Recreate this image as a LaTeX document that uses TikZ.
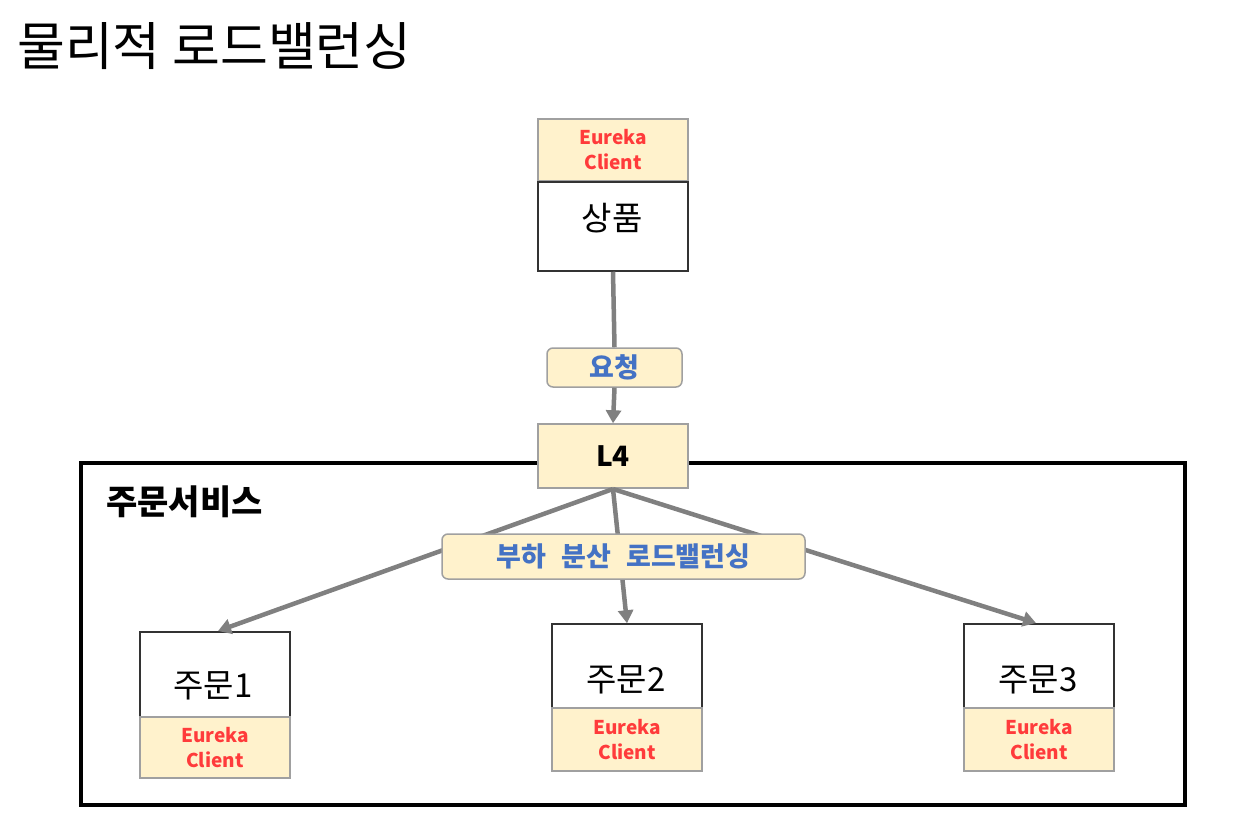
\documentclass[tikz,border=0pt]{standalone}
\usepackage{fontspec}
\setmainfont{Noto Sans CJK KR}
\usetikzlibrary{arrows.meta}
\definecolor{boxyellow}{HTML}{FFF2CC}
\definecolor{lblue}{HTML}{4472C4}
\definecolor{ered}{HTML}{FF3B3B}
\definecolor{lgray}{HTML}{808080}
\definecolor{bgray}{HTML}{A0A0A0}
\begin{document}
\begin{tikzpicture}[x=1pt,y=-1pt,
  eureka/.style={draw=bgray,line width=1.5pt,fill=boxyellow,minimum width=150pt,minimum height=62pt,inner sep=0pt,align=center,font=\fontsize{19}{25}\selectfont\bfseries,text=ered},
  svc/.style={draw=black!80,line width=1.5pt,fill=white,minimum width=150pt,minimum height=86pt,inner sep=0pt},
  svctext/.style={inner sep=0pt,font=\fontsize{33}{38}\selectfont},
  lbl/.style={draw=bgray,line width=1.5pt,fill=boxyellow,rounded corners=6pt,inner sep=0pt,font=\fontsize{27}{32}\selectfont\bfseries,text=lblue},
  conn/.style={draw=lgray,line width=4.5pt},
  arr/.style={conn,-{Triangle[width=15pt,length=13pt]}}]
\useasboundingbox (0,0) rectangle (1250,822);
% title
\node[anchor=west,inner sep=0pt,font=\fontsize{52}{60}\selectfont] (title) at (17,46) {물리적 로드밸런싱};
% outer container
\draw[line width=4pt] (81,463) rectangle (1185,805);
\node[anchor=west,inner sep=0pt,font=\fontsize{34}{40}\selectfont\bfseries] (svcname) at (106,502) {주문서비스};
% top service
\node[eureka] (e0) at (613,150) {Eureka\\Client};
\node[svc,minimum height=89pt] (p) at (613,226.5) {};
\node[svctext] (pt) at (612,218) {상품};
% request label and L4
\node[lbl,minimum width=135pt,minimum height=39pt] (req) at (614.5,367.5) {요청};
\node[draw=bgray,line width=1.5pt,fill=boxyellow,minimum width=150pt,minimum height=64pt,inner sep=0pt,font=\fontsize{28}{32}\selectfont\bfseries] (l4) at (613,456) {L4};
\draw[conn] (p.south) -- (req.north);
\draw[arr] (req.south) -- (l4.north);
% order services
\node[svc,minimum height=85pt] (o1) at (215,674.5) {};
\node[svctext] (o1t) at (213,686) {주문1};
\node[eureka,minimum height=61pt] (e1) at (215,747.5) {Eureka\\Client};
\node[svc,minimum height=84pt] (o2) at (627,666) {};
\node[svctext] (o2t) at (626,680) {주문2};
\node[eureka,minimum height=63pt] (e2) at (627,739.5) {Eureka\\Client};
\node[svc,minimum height=84pt] (o3) at (1039,666) {};
\node[svctext] (o3t) at (1038,680) {주문3};
\node[eureka,minimum height=63pt] (e3) at (1039,739.5) {Eureka\\Client};
% arrows
\coordinate (l4b) at (613,489);
\draw[arr] (l4b) -- (218,631);
\draw[arr] (l4b) -- (o2.north);
\draw[arr] (l4b) -- (1036,623);
\node[lbl,minimum width=363pt,minimum height=45pt] (lb) at (623.5,556.5) {부하\hspace{9pt} 분산\hspace{9pt} 로드밸런싱};
\end{tikzpicture}
\end{document}
